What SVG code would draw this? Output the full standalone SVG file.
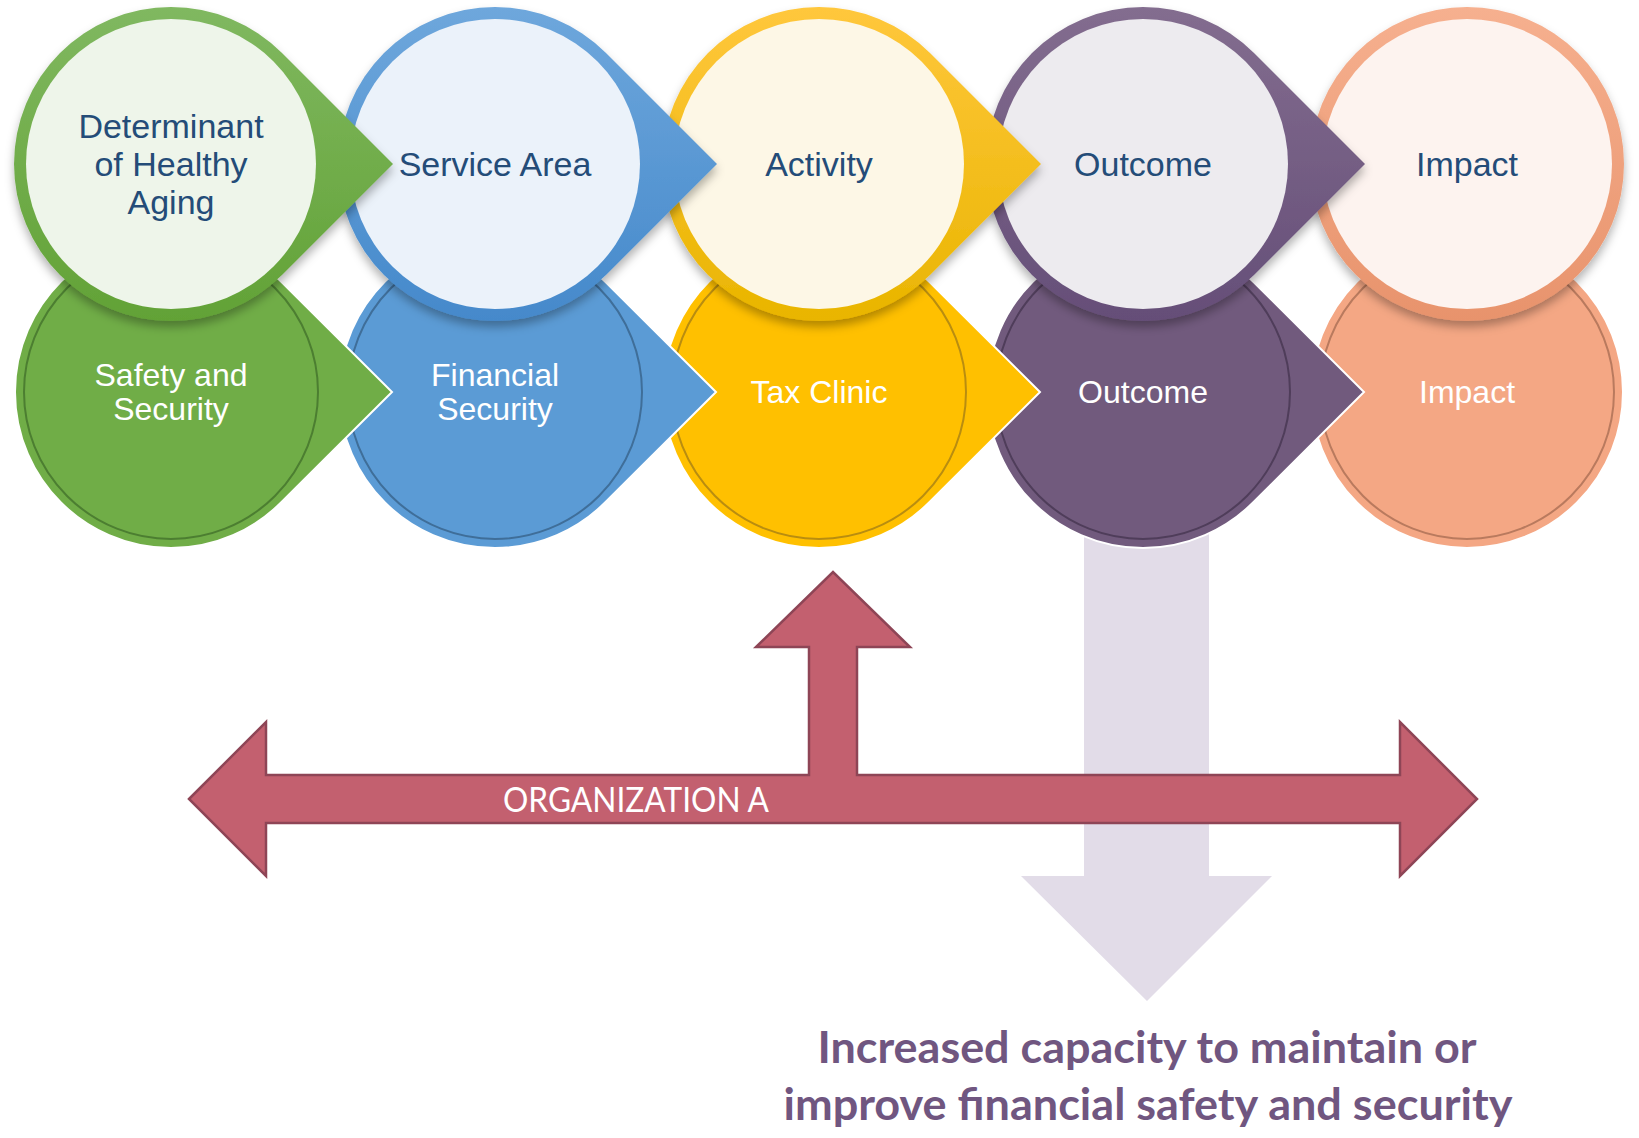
<svg xmlns="http://www.w3.org/2000/svg" width="1639" height="1138" viewBox="0 0 1639 1138">
<style>
.lblTop{font-family:"Liberation Sans",Arial,sans-serif;font-size:34px;fill:#244C78;text-anchor:middle}
.lblBot{font-family:"Liberation Sans",Arial,sans-serif;font-size:32px;fill:#FFFFFF;text-anchor:middle}
.bot{stroke:#FFFFFF;stroke-width:2}
.ring{fill:none;stroke-width:2}
.org{font-family:Lato,"Open Sans",sans-serif;font-size:34px;fill:#FFFFFF}
.res{font-family:Lato,"Open Sans",sans-serif;font-weight:bold;font-size:43px;fill:#705680;text-anchor:middle}
</style>
<defs>
<path id="tdTop" d="M222,0 L111,111 A157,157 0 1 1 111,-111 Z"/>
<path id="tdBot" d="M221,0 L110.3,110.3 A156,156 0 1 1 110.3,-110.3 Z"/>
<filter id="sh" x="-20%" y="-20%" width="150%" height="150%">
<feDropShadow dx="0" dy="6" stdDeviation="5" flood-color="#000" flood-opacity="0.3"/>
</filter>
<linearGradient id="gG" x1="0" y1="0" x2="0" y2="1"><stop offset="0" stop-color="#80B860"/><stop offset="1" stop-color="#62A236"/></linearGradient>
<linearGradient id="gB" x1="0" y1="0" x2="0" y2="1"><stop offset="0" stop-color="#6EA7DC"/><stop offset="1" stop-color="#4589CB"/></linearGradient>
<linearGradient id="gY" x1="0" y1="0" x2="0" y2="1"><stop offset="0" stop-color="#FFC73C"/><stop offset="1" stop-color="#E9B500"/></linearGradient>
<linearGradient id="gP" x1="0" y1="0" x2="0" y2="1"><stop offset="0" stop-color="#836D8F"/><stop offset="1" stop-color="#654E78"/></linearGradient>
<linearGradient id="gO" x1="0" y1="0" x2="0" y2="1"><stop offset="0" stop-color="#F6B08F"/><stop offset="1" stop-color="#E8936C"/></linearGradient>
</defs>

<g id="connectors">
<path id="result-arrow" d="M1084,500 L1209,500 L1209,876 L1272,876 L1147,1001 L1021,876 L1084,876 Z" fill="#E2DCE8"/>
</g>

<!-- bottom row, right to left -->
<g id="node-impact-bottom" transform="translate(1467,392)">
<circle r="156" class="bot" fill="#F4A784"/>
<circle r="147" class="ring" stroke="#B97A5E"/>
<text class="lblBot" y="11">Impact</text>
</g>
<g id="node-outcome-bottom" transform="translate(1143,392)">
<use href="#tdBot" class="bot" fill="#715A7D"/>
<circle r="147" class="ring" stroke="#4F3D5A"/>
<text class="lblBot" y="11">Outcome</text>
</g>
<g id="node-taxclinic-bottom" transform="translate(819,392)">
<use href="#tdBot" class="bot" fill="#FFC000"/>
<circle r="147" class="ring" stroke="#B98D10"/>
<text class="lblBot" y="11">Tax Clinic</text>
</g>
<g id="node-financial-bottom" transform="translate(495,392)">
<use href="#tdBot" class="bot" fill="#5B9BD5"/>
<circle r="147" class="ring" stroke="#3F6E99"/>
<text class="lblBot" y="-6">Financial</text>
<text class="lblBot" y="28">Security</text>
</g>
<g id="node-safety-bottom" transform="translate(171,392)">
<use href="#tdBot" class="bot" fill="#70AD47"/>
<circle r="147" class="ring" stroke="#4C7E31"/>
<text class="lblBot" y="-6">Safety and</text>
<text class="lblBot" y="28">Security</text>
</g>

<!-- top row, right to left -->
<g id="node-impact-top" transform="translate(1467,164)">
<circle r="157" fill="url(#gO)" filter="url(#sh)"/>
<circle r="145" fill="#FDF3EF"/>
<text class="lblTop" y="12">Impact</text>
</g>
<g id="node-outcome-top" transform="translate(1143,164)">
<use href="#tdTop" fill="url(#gP)" filter="url(#sh)"/>
<circle r="145" fill="#EDEBEF"/>
<text class="lblTop" y="12">Outcome</text>
</g>
<g id="node-activity-top" transform="translate(819,164)">
<use href="#tdTop" fill="url(#gY)" filter="url(#sh)"/>
<circle r="145" fill="#FDF7E6"/>
<text class="lblTop" y="12">Activity</text>
</g>
<g id="node-service-top" transform="translate(495,164)">
<use href="#tdTop" fill="url(#gB)" filter="url(#sh)"/>
<circle r="145" fill="#EBF2FA"/>
<text class="lblTop" y="12">Service Area</text>
</g>
<g id="node-determinant-top" transform="translate(171,164)">
<use href="#tdTop" fill="url(#gG)" filter="url(#sh)"/>
<circle r="145" fill="#EEF5EA"/>
<text class="lblTop" y="-26">Determinant</text>
<text class="lblTop" y="12">of Healthy</text>
<text class="lblTop" y="50">Aging</text>
</g>

<g id="node-organization-a">
<path d="M189,799 L266,722 L266,775 L809,775 L809,647 L756,647 L833,572 L910,647 L857,647 L857,775 L1400,775 L1400,722 L1477,799 L1400,876 L1400,823 L266,823 L266,876 Z" fill="#C3606F" stroke="#8E4556" stroke-width="2.5" stroke-linejoin="miter"/>
<text class="org" x="503" y="812" textLength="266" lengthAdjust="spacingAndGlyphs">ORGANIZATION A</text>
</g>

<g id="result-text">
<text class="res" x="1147" y="1063" textLength="659" lengthAdjust="spacingAndGlyphs">Increased capacity to maintain or</text>
<text class="res" x="1148" y="1120" textLength="729" lengthAdjust="spacingAndGlyphs">improve financial safety and security</text>
</g>
</svg>
